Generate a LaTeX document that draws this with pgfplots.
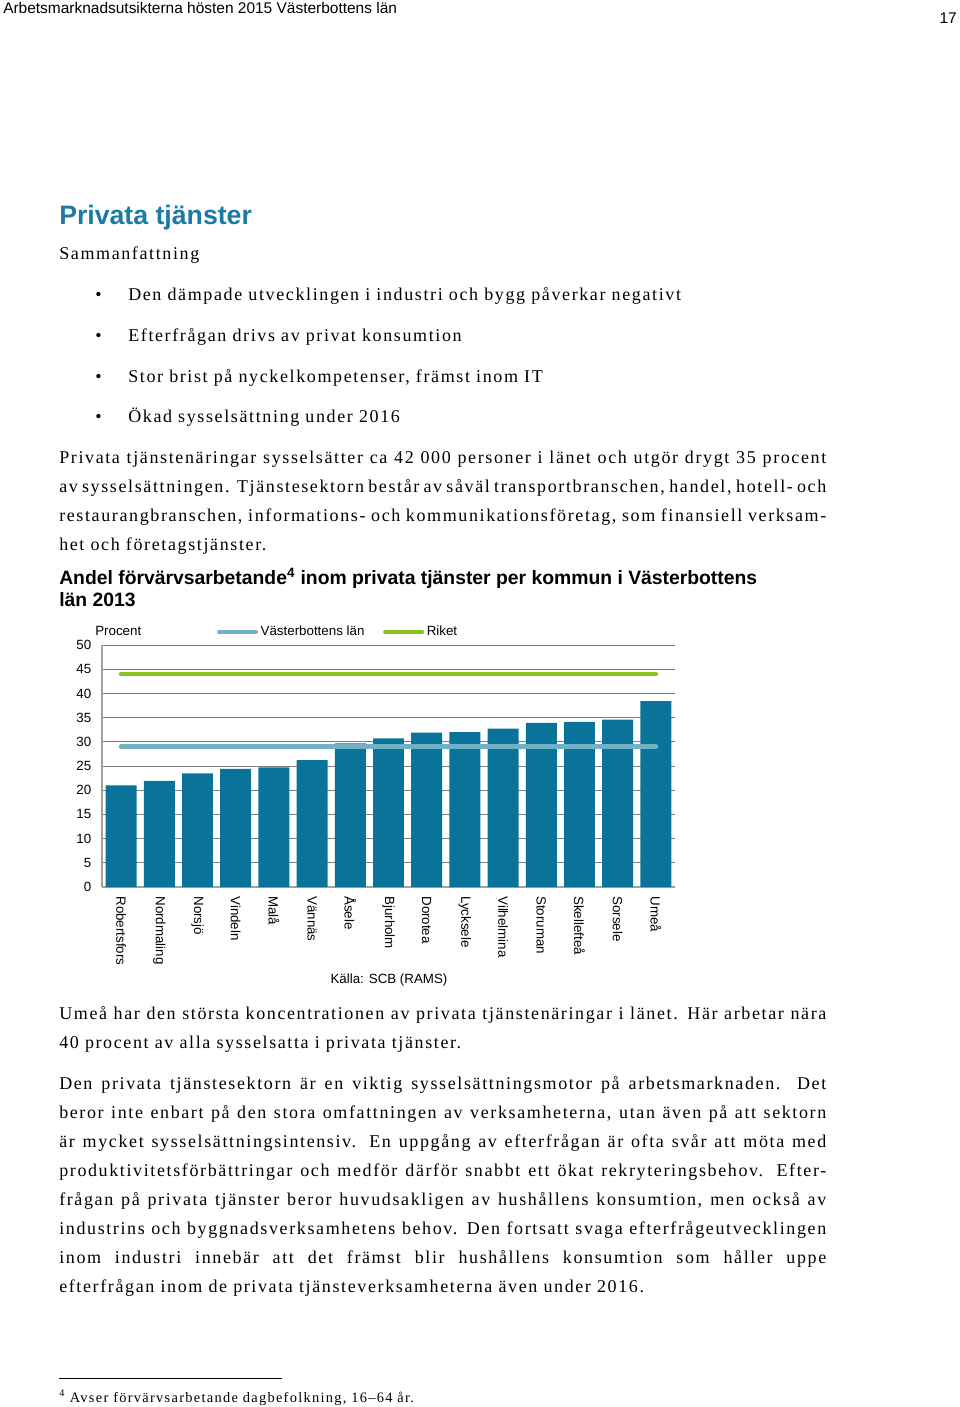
\documentclass[border=0pt]{standalone}
\usepackage{fontspec}
\setmainfont{Liberation Serif}
\setsansfont{Liberation Sans}
\newfontfamily\spacedserif[LetterSpace=9]{Liberation Serif}
\usepackage{pgfplots}
\pgfplotsset{compat=1.18}

\definecolor{barblue}{HTML}{0A7399}
\definecolor{lineblue}{HTML}{6FB2C6}
\definecolor{riketgreen}{HTML}{8CC21E}
\definecolor{titleblue}{HTML}{1A7BA6}
\definecolor{axistan}{HTML}{A8A292}
\definecolor{gridgray}{HTML}{7F7F7F}

% page text helpers, coordinates are pixels of the page, y from the top
\newcommand{\bodyfont}{\spacedserif\fontsize{13.5}{16}\selectfont}
\newcommand{\jline}[2]{\node[anchor=base west,inner sep=0pt,font=\bodyfont] at (59,-#1) {\makebox[575.25pt][s]{#2}};}
\newcommand{\pline}[2]{\node[anchor=base west,inner sep=0pt,font=\bodyfont] at (59,-#1) {#2};}
\newcommand{\bitem}[2]{%
  \node[anchor=base west,inner sep=0pt,font=\bodyfont] at (95,-#1) {\textbullet};
  \node[anchor=base west,inner sep=0pt,font=\bodyfont] at (128,-#1) {#2};}

\begin{document}
\begin{tikzpicture}[x=0.75pt,y=0.75pt]
\path[use as bounding box] (0,0) rectangle (960,-1407);
\coordinate (axisorigin) at (102,-887);

% header
\node[anchor=base west,inner sep=0pt,font=\sffamily\fontsize{11.6}{13}\selectfont] at (3,-13) {Arbetsmarknadsutsikterna hösten 2015 Västerbottens län};
\node[anchor=base east,inner sep=0pt,font=\sffamily\fontsize{11.6}{13}\selectfont] at (957,-23) {17};

\node[anchor=base west,inner sep=0pt,font=\sffamily\bfseries\fontsize{20}{24}\selectfont,text=titleblue] at (59,-224) {Privata tjänster};
\pline{259}{Sammanfattning}

\bitem{300}{Den dämpade utvecklingen i industri och bygg påverkar negativt}
\bitem{341}{Efterfrågan drivs av privat konsumtion}
\bitem{382}{Stor brist på nyckelkompetenser, främst inom IT}
\bitem{422}{Ökad sysselsättning under 2016}

\jline{463}{Privata tjänstenäringar sysselsätter ca 42 000 personer i länet och utgör drygt 35 procent}
\jline{492}{av sysselsättningen. Tjänstesektorn består av såväl transportbranschen, handel, hotell- och}
\jline{521}{restaurangbranschen, informations- och kommunikationsföretag, som finansiell verksam-}
\pline{550}{het och företagstjänster.}

% chart title
\node[anchor=base west,inner sep=0pt,font=\sffamily\bfseries\fontsize{14.5}{16}\selectfont] at (59,-584) {Andel förvärvsarbetande\textsuperscript{4} inom privata tjänster per kommun i Västerbottens};
\node[anchor=base west,inner sep=0pt,font=\sffamily\bfseries\fontsize{14.5}{16}\selectfont] at (59,-606) {län 2013};

\node[anchor=west,inner sep=0pt,font=\sffamily\fontsize{10}{12}\selectfont] at (95,-631) {Procent};

\begin{axis}[
    at={(axisorigin)}, anchor=south west,
    scale only axis, width=429.75pt, height=181.5pt,
    xmin=-0.5, xmax=14.5, ymin=0, ymax=50,
    axis lines=left,
    axis line style={draw=axistan, line width=2.2pt, -},
    ytick={0,5,...,50},
    ymajorgrids,
    grid style={gridgray, line width=0.75pt},
    major tick length=0pt,
    xtick={0,...,14},
    xticklabels={Robertsfors,Nordmaling,Norsjö,Vindeln,Malå,Vännäs,Åsele,Bjurholm,Dorotea,Lycksele,Vilhelmina,Storuman,Skellefteå,Sorsele,Umeå},
    xticklabel style={rotate=-90, anchor=west, font=\sffamily\fontsize{10}{12}\selectfont, xshift=3.5pt},
    yticklabel style={font=\sffamily\fontsize{10}{12}\selectfont, xshift=-4.5pt},
    /pgf/number format/assume math mode=true,
    legend style={at={(0.2007,1.054)}, anchor=west, draw=none, fill=none,
        legend columns=-1, inner sep=0pt, outer sep=0pt,
        font=\sffamily\fontsize{10}{12}\selectfont,
        /tikz/every even column/.append style={column sep=12pt}},
    legend image code/.code={\draw[#1, line cap=round] (1.75pt,0pt) -- (29pt,0pt);},
]
\addplot[ybar, bar width=0.81, bar shift=0pt, fill=barblue, draw=none, forget plot]
coordinates {
    (0,21.0)(1,21.95)(2,23.5)(3,24.4)(4,24.7)(5,26.2)(6,29.7)(7,30.7)
    (8,31.9)(9,32.0)(10,32.7)(11,33.9)(12,34.1)(13,34.6)(14,38.4)
};
\addplot[lineblue, line width=3.5pt, line cap=round]
coordinates {(0,29.0)(14,29.0)};
\addplot[riketgreen, line width=3.5pt, line cap=round]
coordinates {(0,44.0)(14,44.0)};
\legend{Västerbottens län, Riket}
\end{axis}

\node[font=\sffamily\fontsize{10}{12}\selectfont] at (389,-980) {Källa: SCB (RAMS)};

\jline{1019}{Umeå har den största koncentrationen av privata tjänstenäringar i länet. Här arbetar nära}
\pline{1048}{40 procent av alla sysselsatta i privata tjänster.}

\jline{1089}{Den privata tjänstesektorn är en viktig sysselsättningsmotor på arbetsmarknaden. Det}
\jline{1118}{beror inte enbart på den stora omfattningen av verksamheterna, utan även på att sektorn}
\jline{1147}{är mycket sysselsättningsintensiv. En uppgång av efterfrågan är ofta svår att möta med}
\jline{1176}{produktivitetsförbättringar och medför därför snabbt ett ökat rekryteringsbehov. Efter-}
\jline{1205}{frågan på privata tjänster beror huvudsakligen av hushållens konsumtion, men också av}
\jline{1234}{industrins och byggnadsverksamhetens behov. Den fortsatt svaga efterfrågeutvecklingen}
\jline{1263}{inom industri innebär att det främst blir hushållens konsumtion som håller uppe}
\pline{1292}{efterfrågan inom de privata tjänsteverksamheterna även under 2016.}

% footnote
\draw[line width=0.75pt] (59,-1378) -- (282,-1378);
\node[anchor=base west,inner sep=0pt,font=\spacedserif\fontsize{10.8}{12}\selectfont] at (59,-1402) {\textsuperscript{4} Avser förvärvsarbetande dagbefolkning, 16–64 år.};
\end{tikzpicture}
\end{document}
